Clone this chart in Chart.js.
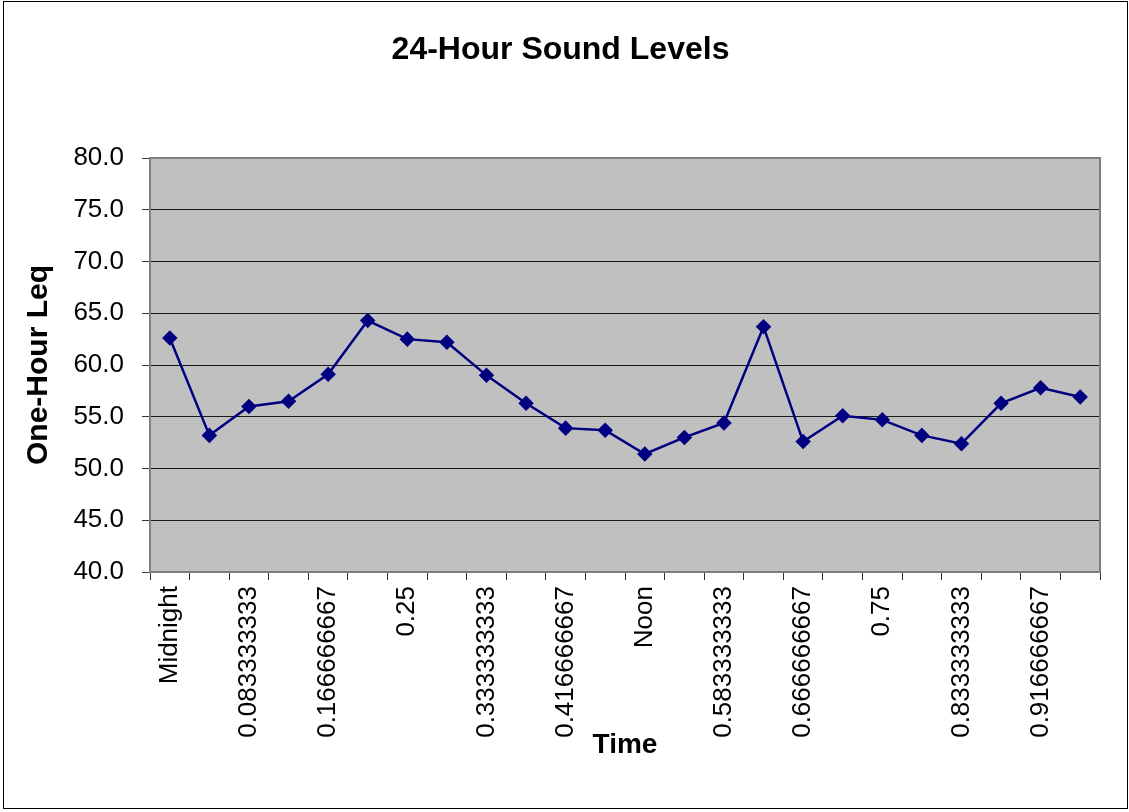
<!DOCTYPE html>
<html>
<head>
<meta charset="utf-8">
<script src="https://cdn.jsdelivr.net/npm/chart.js@4.4.0/dist/chart.umd.min.js"></script>
<style>
  html, body { margin: 0; padding: 0; background: #fff; }
  #soundChart { display: block; }
</style>
</head>
<body>
<canvas id="soundChart" width="1129" height="812"></canvas>
<script>
'use strict';

// hour of day, as Excel prints the time fraction
const hourLabels = [
  'Midnight', '0.041666667', '0.083333333', '0.125', '0.166666667', '0.208333333',
  '0.25', '0.291666667', '0.333333333', '0.375', '0.416666667', '0.458333333',
  'Noon', '0.541666667', '0.583333333', '0.625', '0.666666667', '0.708333333',
  '0.75', '0.791666667', '0.833333333', '0.875', '0.916666667', '0.958333333'
];

// one-hour Leq, dBA
const leqValues = [
  62.6, 53.2, 56.0, 56.5, 59.1, 64.3, 62.5, 62.2, 59.0, 56.3, 53.9, 53.7,
  51.4, 53.0, 54.4, 63.7, 52.6, 55.1, 54.7, 53.2, 52.4, 56.3, 57.8, 56.9
];

const yTicks = { min: 40, max: 80, step: 5 };

const FONT = '"Liberation Sans", Arial, sans-serif';

const frameplugin = {
  id: 'excelFrame',
  beforeDraw(chart) {
    const { ctx, chartArea: a } = chart;
    ctx.save();
    ctx.fillStyle = '#fff';
    ctx.fillRect(0, 0, chart.width, chart.height);
    ctx.strokeStyle = '#000';
    ctx.lineWidth = 1;
    ctx.strokeRect(3.5, 1.5, chart.width - 5, chart.height - 5);
    ctx.fillStyle = '#c0c0c0';
    ctx.fillRect(a.left, a.top, a.right - a.left, a.bottom - a.top);
    ctx.restore();
  },
  beforeDatasetsDraw(chart) {
    const { ctx, chartArea: a } = chart;
    ctx.save();
    ctx.strokeStyle = '#808080';
    ctx.lineWidth = 2;
    ctx.strokeRect(a.left, a.top, a.right - a.left, a.bottom - a.top);
    ctx.restore();
  }
};

new Chart(document.getElementById('soundChart'), {
  type: 'line',
  data: {
    labels: hourLabels,
    datasets: [{
      label: 'One-Hour Leq',
      data: leqValues,
      borderColor: '#000080',
      backgroundColor: '#000080',
      borderWidth: 2.5,
      tension: 0,
      fill: false,
      pointStyle: 'rectRot',
      pointRadius: 6,
      pointBackgroundColor: '#000080',
      pointBorderColor: '#000080'
    }]
  },
  options: {
    responsive: false,
    animation: false,
    layout: { padding: { left: 21, right: 29, top: 0, bottom: 50 } },
    plugins: {
      legend: { display: false },
      tooltip: { enabled: false },
      title: {
        display: true,
        text: '24-Hour Sound Levels',
        color: '#000',
        font: { family: FONT, size: 32, weight: 'bold' },
        padding: { top: 30.8, bottom: 88.8 }
      }
    },
    scales: {
      x: {
        offset: true,
        border: { display: false },
        grid: { offset: true, drawOnChartArea: false, tickLength: 8, color: '#333', lineWidth: 1 },
        ticks: {
          autoSkip: false,
          minRotation: 90,
          maxRotation: 90,
          padding: 6,
          color: '#000',
          font: { family: FONT, size: 26 },
          callback: (v, i) => (i % 2 === 0 ? hourLabels[i] : '')
        },
        title: {
          display: true,
          text: 'Time',
          color: '#000',
          font: { family: FONT, size: 28, weight: 'bold' },
          padding: 0
        },
        afterFit(scale) { scale.height = 190; }
      },
      y: {
        min: yTicks.min,
        max: yTicks.max,
        border: { display: false },
        grid: { color: '#1a1a1a', lineWidth: 1, tickLength: 8, tickColor: '#333' },
        ticks: {
          stepSize: yTicks.step,
          padding: 18,
          color: '#000',
          font: { family: FONT, size: 26 },
          callback: v => Number(v).toFixed(1)
        },
        title: {
          display: true,
          text: 'One-Hour Leq',
          color: '#000',
          font: { family: FONT, size: 30, weight: 'bold' },
          padding: 0
        },
        afterFit(scale) { scale.width = 129; }
      }
    }
  },
  plugins: [frameplugin]
});
</script>
</body>
</html>
